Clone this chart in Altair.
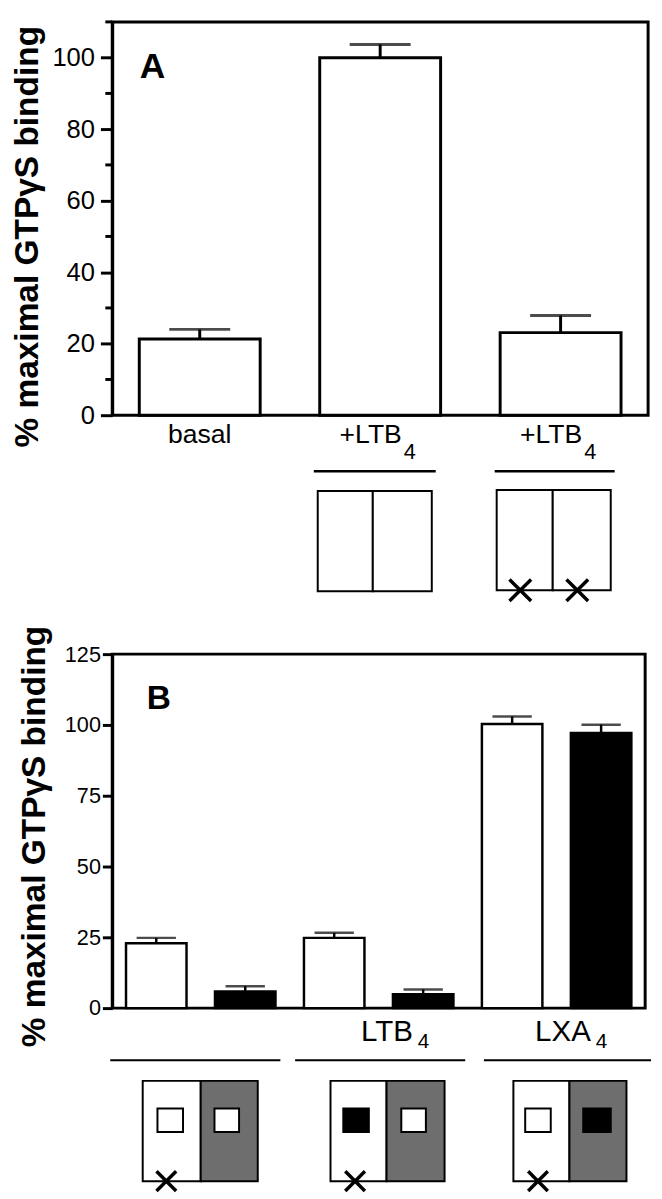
import altair as alt
import pandas as pd

FONT = "Liberation Sans"
Y_TITLE = "% maximal GTPγS binding"

# ---------------- Panel A data ----------------
a_ids = ["basal", "LTB4", "LTB4_x"]
a_values = [21.3, 100.0, 23.1]
a_upper = [24.0, 103.7, 27.9]
a_label_main = ["basal", "+LTB", "+LTB"]
a_label_sub = ["", "4", "4"]
a_ticks_major = [0, 20, 40, 60, 80, 100]
a_ticks_minor = [10, 30, 50, 70, 90, 110]

# ---------------- Panel B data ----------------
b_ids = ["b1", "b2", "b3", "b4", "b5", "b6"]
b_values = [22.9, 5.9, 24.8, 4.9, 100.3, 97.2]
b_upper = [24.8, 7.7, 26.6, 6.6, 103.0, 100.1]
b_fill = ["white", "black", "white", "black", "white", "black"]
b_label_main = ["", "", "LTB", "", "LXA", ""]
b_label_sub = ["", "", "4", "", "4", ""]
b_ticks = [0, 25, 50, 75, 100, 125]

panel_letters = ["A", "B"]

# ---------------- schematic layout (pixels, relative to each plot area) ----------------
GRAY = "#6e6e6e"
A_lines = [(205, 329, 457), (389, 511, 457)]
A_halves = [(209, 265, 477, 579, "white"), (265, 325, 477, 579, "white"),
            (391, 448, 476, 578, "white"), (448, 507, 476, 578, "white")]
A_cross = [(415, 578), (473, 578)]
A_cross_half = 11

B_lines = [(-2, 171, 413), (186, 359, 413), (378, 548, 413)]
B_halves = [(31, 90, 434, 536, "white"), (90, 148, 434, 536, GRAY),
            (222, 279, 434, 536, "white"), (279, 338, 434, 536, GRAY),
            (408, 465, 434, 536, "white"), (465, 523, 434, 536, GRAY)]
B_squares = [(46, 72, 462, 486, "white"), (104, 129, 462, 486, "white"),
             (235, 261, 462, 486, "black"), (294, 319, 462, 486, "white"),
             (420, 446, 462, 486, "white"), (479, 507, 462, 486, "black")]
B_cross = [(55, 536), (247, 536), (433, 536)]
B_cross_half = 10


def hlines(lines, width):
    df = pd.DataFrame(lines, columns=["x1", "x2", "y"])
    return alt.Chart(df).mark_rule(color="black", strokeWidth=width).encode(
        x=alt.X("x1:Q", scale=None), x2="x2:Q", y=alt.Y("y:Q", scale=None))


def rects(items, width):
    df = pd.DataFrame(items, columns=["x1", "x2", "y1", "y2", "fill"])
    return alt.Chart(df).mark_rect(stroke="black", strokeWidth=width).encode(
        x=alt.X("x1:Q", scale=None), x2="x2:Q",
        y=alt.Y("y1:Q", scale=None), y2="y2:Q",
        fill=alt.Fill("fill:N", scale=None))


def crosses(centers, h):
    segs = []
    for cx, cy in centers:
        segs.append((cx - h, cx + h, cy - h, cy + h))
        segs.append((cx - h, cx + h, cy + h, cy - h))
    df = pd.DataFrame(segs, columns=["x1", "x2", "y1", "y2"])
    return alt.Chart(df).mark_rule(color="black", strokeWidth=3.5).encode(
        x=alt.X("x1:Q", scale=None), x2="x2:Q",
        y=alt.Y("y1:Q", scale=None), y2="y2:Q")


def anchor(x, y1, y2):
    return alt.Chart(pd.DataFrame({"a": [0]})).mark_rule(strokeOpacity=0, opacity=0).encode(
        x=alt.value(x), y=alt.value(y1), y2=alt.value(y2))


def letter(t, x, y, size):
    return alt.Chart(pd.DataFrame({"t": [t]})).mark_text(
        font=FONT, fontSize=size, fontWeight="bold", align="left", baseline="alphabetic",
        color="black"
    ).encode(x=alt.value(x), y=alt.value(y), text="t:N")


def y_axis(values, tick, pad, lsize, tsize, tpad, ty):
    return alt.Axis(values=values, tickSize=tick, tickWidth=3, domainWidth=3,
                    labelFontSize=lsize, labelPadding=pad, labelFont=FONT,
                    labelFlush=False, labelColor="black", tickColor="black",
                    domainColor="black", grid=False, titleFont=FONT,
                    titleFontSize=tsize, titleFontWeight="bold", titlePadding=tpad,
                    titleColor="black", titleY=ty)


# ---------------- Panel A chart ----------------
dfA = pd.DataFrame({"id": a_ids, "value": a_values, "upper": a_upper,
                    "main": a_label_main, "sub": a_label_sub})
dfAminor = pd.DataFrame({"v": a_ticks_minor})
xA = alt.X("id:N", sort=a_ids, axis=None,
           scale=alt.Scale(paddingInner=0.33, paddingOuter=0.15))
yA_scale = alt.Scale(domain=[0, 110], nice=False)
axisA = y_axis(a_ticks_major, 12, 6, 26, 34, 8, 218)


def yA(field):
    return alt.Y(field, scale=yA_scale, axis=axisA, title=Y_TITLE)


baseA = alt.Chart(dfA)
barsA = baseA.mark_bar(fill="white", stroke="black", strokeWidth=3).encode(x=xA, y=yA("value:Q"))
stemsA = baseA.mark_rule(color="black", strokeWidth=3).encode(x=xA, y=yA("value:Q"), y2="upper:Q")
capsA = baseA.mark_tick(color="black", size=62, thickness=3).encode(x=xA, y=yA("upper:Q"))
minorA = alt.Chart(dfAminor).mark_rule(color="black", strokeWidth=3).encode(
    y=yA("v:Q"), x=alt.value(-7), x2=alt.value(0))
txtA_c = baseA.transform_filter("datum.sub == ''").mark_text(
    font=FONT, fontSize=27, align="center", baseline="alphabetic", color="black"
).encode(x=xA, y=alt.value(428), text="main:N")
txtA_m = baseA.transform_filter("datum.sub != ''").mark_text(
    font=FONT, fontSize=27, align="right", baseline="alphabetic", dx=22, color="black"
).encode(x=xA, y=alt.value(428), text="main:N")
txtA_s = baseA.transform_filter("datum.sub != ''").mark_text(
    font=FONT, fontSize=22, align="left", baseline="alphabetic", dx=24, color="black"
).encode(x=xA, y=alt.value(445), text="sub:N")

chartA = alt.layer(
    anchor(-104, -2, 599), barsA, stemsA, capsA, minorA, txtA_c, txtA_m, txtA_s,
    hlines(A_lines, 2.5), rects(A_halves, 2), crosses(A_cross, A_cross_half),
    letter(panel_letters[0], 28, 57, 36),
).properties(width=545, height=400)

# ---------------- Panel B chart ----------------
dfB = pd.DataFrame({"id": b_ids, "value": b_values, "upper": b_upper, "fill": b_fill,
                    "main": b_label_main, "sub": b_label_sub})
xB = alt.X("id:N", sort=b_ids, axis=None,
           scale=alt.Scale(paddingInner=0.32, paddingOuter=0.155))
yB_scale = alt.Scale(domain=[0, 125], nice=False)
axisB = y_axis(b_ticks, 10, 2, 22, 34, 13, 185)


def yB(field):
    return alt.Y(field, scale=yB_scale, axis=axisB, title=Y_TITLE)


baseB = alt.Chart(dfB)
barsB = baseB.mark_bar(stroke="black", strokeWidth=2.5).encode(
    x=xB, y=yB("value:Q"), fill=alt.Fill("fill:N", scale=None))
stemsB = baseB.mark_rule(color="black", strokeWidth=2.5).encode(x=xB, y=yB("value:Q"), y2="upper:Q")
capsB = baseB.mark_tick(color="black", size=40, thickness=2.5).encode(x=xB, y=yB("upper:Q"))
txtB_m = baseB.transform_filter("datum.main != ''").mark_text(
    font=FONT, fontSize=30, align="right", baseline="alphabetic", dx=80, color="black"
).encode(x=xB, y=alt.value(393), text="main:N")
txtB_s = baseB.transform_filter("datum.main != ''").mark_text(
    font=FONT, fontSize=21, align="left", baseline="alphabetic", dx=85, color="black"
).encode(x=xB, y=alt.value(401), text="sub:N")

chartB = alt.layer(
    anchor(-97, -40, 540), barsB, stemsB, capsB, txtB_m, txtB_s,
    hlines(B_lines, 2), rects(B_halves, 2), rects(B_squares, 2),
    crosses(B_cross, B_cross_half),
    letter(panel_letters[1], 35, 56, 34),
).properties(width=542, height=360)

chart = alt.vconcat(chartA, chartB, spacing=0).properties(
    padding={"left": 0, "top": 0, "right": 0, "bottom": -6}
).configure(font=FONT, background="white").configure_view(stroke="black", strokeWidth=3)

chart.save("out.html", embed_options={"renderer": "svg", "actions": False})
